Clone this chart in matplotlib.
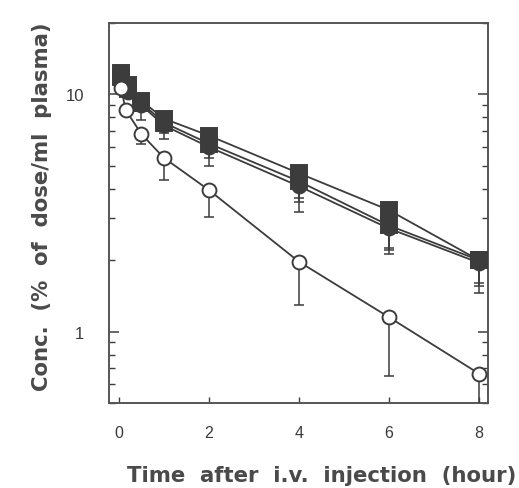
import numpy as np
import matplotlib
matplotlib.use("Agg")
import matplotlib.pyplot as plt
from matplotlib.ticker import LogLocator, NullFormatter, FixedLocator

plt.rcParams['font.family'] = ['Liberation Sans', 'DejaVu Sans']

# sampling times (hour)
t = [0.05, 0.2, 0.5, 1, 2, 4, 6, 8]
t_open = [0.05, 0.15, 0.5, 1, 2, 4, 6, 8]

# concentrations (% of dose/ml plasma)
sq_a = [12.3, 11.0, 9.4, 7.9, 6.7, 4.65, 3.25, 2.0]
sq_b = [11.8, 10.5, 9.2, 7.6, 6.2, 4.3, 2.8, 2.0]
circ_c = [11.5, 10.2, 9.0, 7.4, 6.0, 4.1, 2.72, 1.95]
open_d = [10.6, 8.6, 6.8, 5.4, 3.95, 1.97, 1.15, 0.665]

# lower error bars (SD)
err_a = [0.0, 0.0, 0.5, 0.6, 0.8, 1.0, 1.0, 0.4]
err_b = [0.0, 0.0, 1.4, 1.1, 1.2, 1.1, 0.6, 0.55]
err_c = [0.0, 0.0, 0.5, 0.5, 0.6, 0.6, 0.6, 0.4]
err_d = [0.0, 0.0, 0.6, 1.05, 0.92, 0.68, 0.5, 0.25]

col = '#3c3c3c'
txt = '#3a3a3a'

fig = plt.figure(figsize=(5.19, 4.89), dpi=100)
ax = fig.add_axes([0.21, 0.174, 0.73, 0.777])

def series(x, y, err, marker, ms, mfc, z):
	zeros = np.zeros(len(err))
	ax.errorbar(x, y, yerr=[err, zeros], fmt='none', ecolor=col, elinewidth=1.1,
		capsize=3.5, capthick=1.1, zorder=z - 1)
	ax.plot(x, y, color=col, lw=1.3, marker=marker, ms=ms, mfc=mfc, mec=col,
		mew=1.4, zorder=z, clip_on=False)

series(t_open, open_d, err_d, 'o', 10, 'white', 6)
series(t, circ_c, err_c, 'o', 10, col, 5)
series(t, sq_b, err_b, 's', 11, col, 4)
series(t, sq_a, err_a, 's', 11, col, 3)

ax.set_yscale('log')
ax.set_ylim(0.5, 20)
ax.set_xlim(-0.22, 8.2)

ax.xaxis.set_major_locator(FixedLocator([0, 2, 4, 6, 8]))
ax.yaxis.set_major_locator(FixedLocator([1, 10]))
ax.yaxis.set_minor_locator(LogLocator(base=10, subs=np.arange(2, 10)))
ax.yaxis.set_minor_formatter(NullFormatter())
ax.set_yticklabels(['1', '10'])

ax.tick_params(axis='both', which='both', direction='in', colors=col, labelcolor=txt)
ax.tick_params(axis='y', which='major', length=7, width=1.1, right=True, labelsize=12, pad=18)
ax.tick_params(axis='y', which='minor', length=4, width=1.0, right=True)
ax.tick_params(axis='x', which='major', length=4, width=1.0, labelsize=11.5, pad=16)

for s in ax.spines.values():
	s.set_color('#555555')
	s.set_linewidth(1.4)

lab_font = dict(fontsize=15.3, fontweight='bold', color='#4a4a4a', family='DejaVu Sans')
ax.set_xlabel('Time  after  i.v.  injection  (hour)', **lab_font)
ax.set_ylabel('Conc.  (%  of  dose/ml  plasma)', **lab_font)
ax.xaxis.set_label_coords(0.562, -0.163)
ax.yaxis.set_label_coords(-0.15, 0.518)

fig.savefig('out.png', dpi=100)
